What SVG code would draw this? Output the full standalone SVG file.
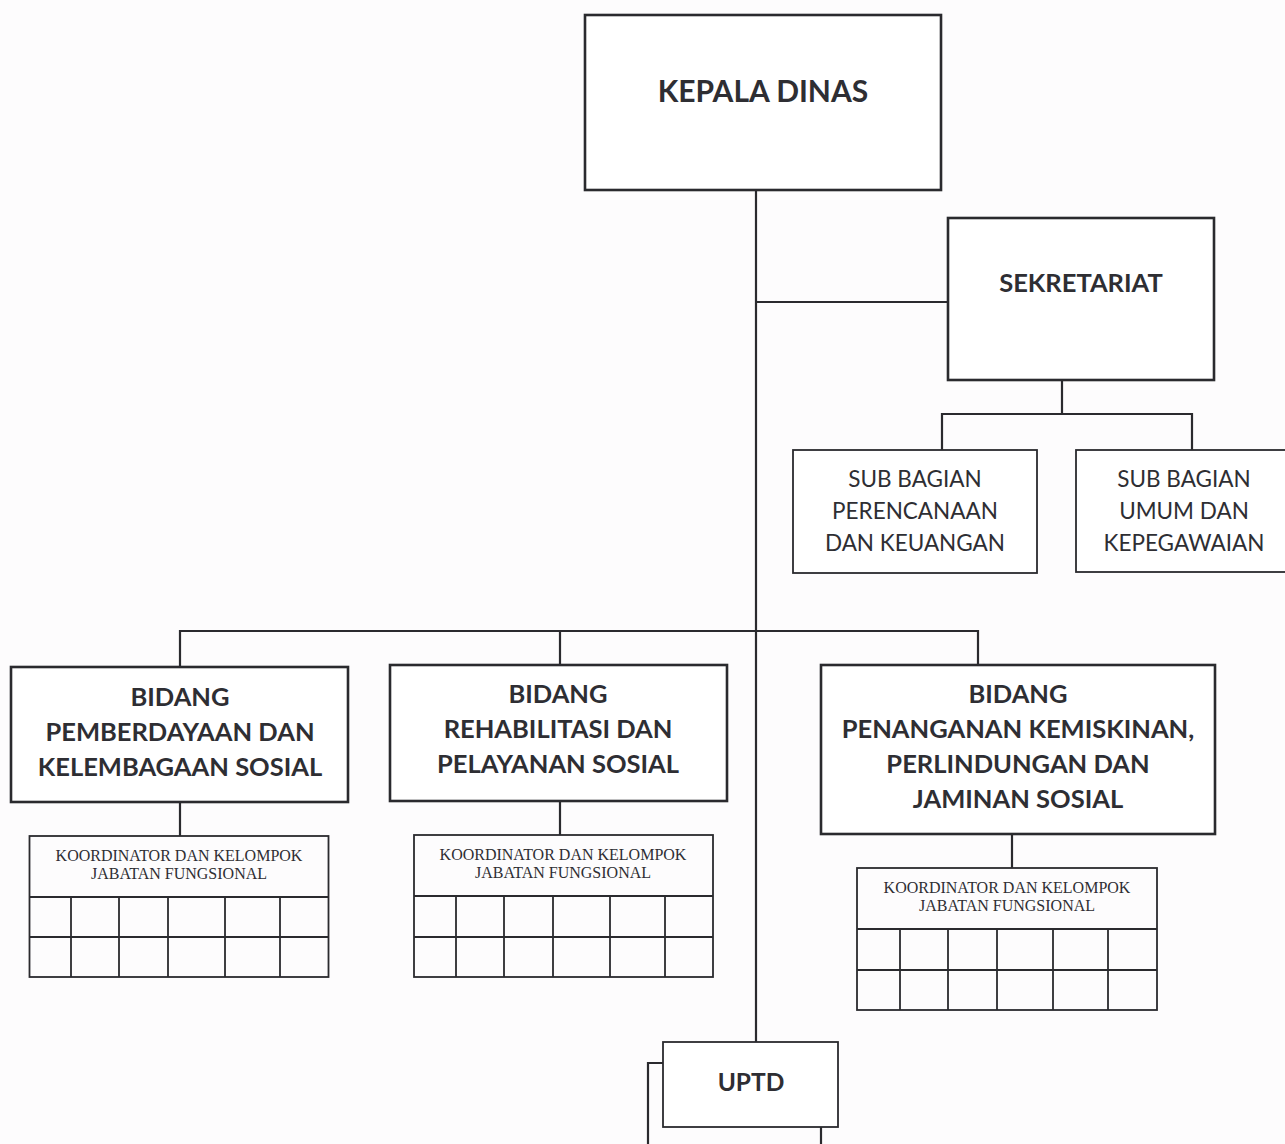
<svg xmlns="http://www.w3.org/2000/svg" width="1285" height="1144" viewBox="0 0 1285 1144">
<style>
.box{fill:#fff;stroke:#2a2a2e;stroke-width:2.6}
.thin{fill:#fff;stroke:#2a2a2e;stroke-width:1.8}
.ln{fill:none;stroke:#2a2a2e;stroke-width:2.2}
.gl{fill:none;stroke:#2a2a2e;stroke-width:1.8}
.b{font-family:Lato,"Open Sans",sans-serif;font-weight:bold;fill:#2e2e33;text-anchor:middle}
.r{font-family:Lato,"Open Sans",sans-serif;fill:#2e2e33;text-anchor:middle}
.s{font-family:"Liberation Serif",serif;fill:#2e2e33;text-anchor:middle;font-size:16px}
</style>
<rect width="1285" height="1144" fill="#fdfcfd"/>
<g id="connectors">
<path class="ln" d="M756 190V1042"/>
<path class="ln" d="M756 302H948"/>
<path class="ln" d="M1062 380V414M942 450V414H1192V450"/>
<path class="ln" d="M180 667V631H978V665M560 631V665"/>
<path class="ln" d="M180 802V836M560 801V835M1012 834V868"/>
<path class="ln" d="M663 1063H648V1144M821 1127V1144"/>
</g>
<g id="kepala-dinas">
<rect class="box" x="585" y="15" width="356" height="175"/>
<text class="b" x="763" y="102" font-size="30">KEPALA DINAS</text>
</g>
<g id="sekretariat">
<rect class="box" x="948" y="218" width="266" height="162"/>
<text class="b" x="1081" y="292" font-size="25.5">SEKRETARIAT</text>
</g>
<g id="sub-bagian-perencanaan">
<rect class="thin" x="793" y="450" width="244" height="123"/>
<text class="r" x="915" y="487" font-size="22.5">SUB BAGIAN</text>
<text class="r" x="915" y="519" font-size="22.5">PERENCANAAN</text>
<text class="r" x="915" y="551" font-size="22.5">DAN KEUANGAN</text>
</g>
<g id="sub-bagian-umum">
<rect class="thin" x="1076" y="450" width="214" height="122"/>
<text class="r" x="1184" y="487" font-size="22.5">SUB BAGIAN</text>
<text class="r" x="1184" y="519" font-size="22.5">UMUM DAN</text>
<text class="r" x="1184" y="551" font-size="22.5">KEPEGAWAIAN</text>
</g>
<g id="bidang-pemberdayaan">
<rect class="box" x="11" y="667" width="337" height="135"/>
<text class="b" x="180" y="706" font-size="25.5">BIDANG</text>
<text class="b" x="180" y="741" font-size="25.5">PEMBERDAYAAN DAN</text>
<text class="b" x="180" y="776" font-size="25.5">KELEMBAGAAN SOSIAL</text>
</g>
<g id="bidang-rehabilitasi">
<rect class="box" x="390" y="665" width="337" height="136"/>
<text class="b" x="558" y="703" font-size="25.5">BIDANG</text>
<text class="b" x="558" y="738" font-size="25.5">REHABILITASI DAN</text>
<text class="b" x="558" y="773" font-size="25.5">PELAYANAN SOSIAL</text>
</g>
<g id="bidang-penanganan">
<rect class="box" x="821" y="665" width="394" height="169"/>
<text class="b" x="1018" y="703" font-size="25.5">BIDANG</text>
<text class="b" x="1018" y="738" font-size="25.5">PENANGANAN KEMISKINAN,</text>
<text class="b" x="1018" y="773" font-size="25.5">PERLINDUNGAN DAN</text>
<text class="b" x="1018" y="808" font-size="25.5">JAMINAN SOSIAL</text>
</g>
<g id="koordinator-1">
<rect class="gl" x="29.5" y="836" width="299" height="141"/>
<path class="gl" d="M29.5 897H328.5M29.5 937H328.5M71 897V977M119 897V977M168 897V977M225 897V977M280 897V977"/>
<text class="s" x="179" y="861">KOORDINATOR DAN KELOMPOK</text>
<text class="s" x="179" y="879">JABATAN FUNGSIONAL</text>
</g>
<g id="koordinator-2">
<rect class="gl" x="414" y="835" width="299" height="142"/>
<path class="gl" d="M414 896H713M414 937H713M456 896V977M504 896V977M553 896V977M610 896V977M665 896V977"/>
<text class="s" x="563" y="860">KOORDINATOR DAN KELOMPOK</text>
<text class="s" x="563" y="878">JABATAN FUNGSIONAL</text>
</g>
<g id="koordinator-3">
<rect class="gl" x="857" y="868" width="300" height="142"/>
<path class="gl" d="M857 929H1157M857 970H1157M900 929V1010M948 929V1010M997 929V1010M1053 929V1010M1108 929V1010"/>
<text class="s" x="1007" y="893">KOORDINATOR DAN KELOMPOK</text>
<text class="s" x="1007" y="911">JABATAN FUNGSIONAL</text>
</g>
<g id="uptd">
<rect class="thin" x="663" y="1042" width="175" height="85"/>
<text class="b" x="751" y="1091" font-size="24.5">UPTD</text>
</g>
</svg>
